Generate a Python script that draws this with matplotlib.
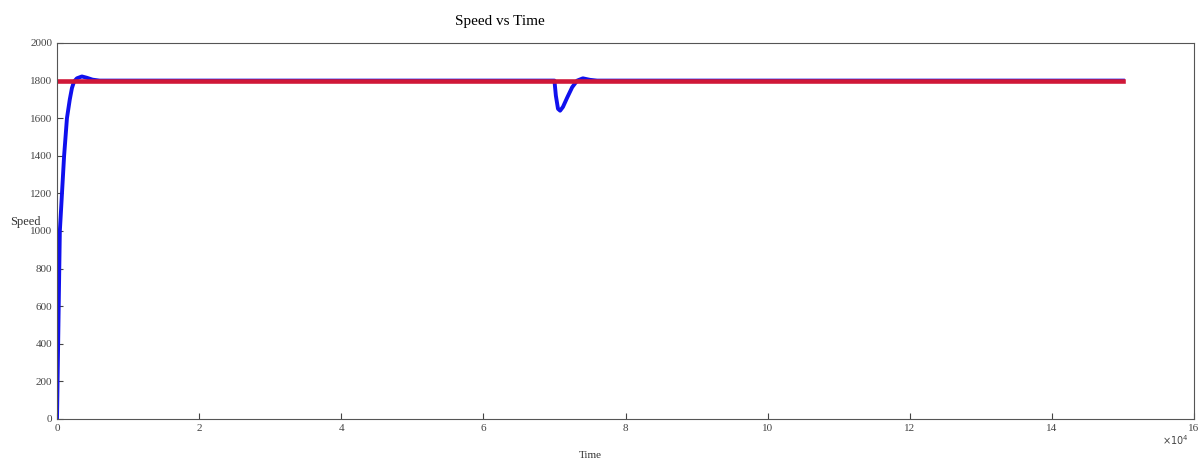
import matplotlib.pyplot as plt
import numpy as np

# time in units of 1e4
t_ref = [0, 15]
speed_ref = [1800, 1800]

t_act = [0, 0.01, 0.02, 0.03, 0.04, 0.055, 0.07, 0.085, 0.1, 0.12, 0.14, 0.18, 0.21, 0.24, 0.28, 0.35, 0.42, 0.5, 0.6,
         7.0, 7.02, 7.05, 7.08, 7.12, 7.18, 7.25, 7.32, 7.4, 7.5, 7.6, 15]
speed_act = [0, 250, 500, 750, 1000, 1100, 1200, 1300, 1400, 1500, 1600, 1700, 1760, 1795, 1812, 1822, 1815, 1805, 1800,
             1800, 1720, 1650, 1640, 1660, 1710, 1765, 1800, 1812, 1804, 1800, 1800]

plt.rcParams['font.family'] = ['Liberation Serif', 'DejaVu Serif']

fig = plt.figure(figsize=(12, 4.63), dpi=100)
ax = fig.add_axes([57/1200, 1 - 419/463, (1194-57)/1200, (419-43)/463])

ax.plot(t_act, speed_act, color='#1010ee', lw=2.8)
ax.plot(t_ref, speed_ref, color='#d01838', lw=3.3)

ax.set_xlim(0, 16)
ax.set_ylim(0, 2000)
ax.set_xticks(np.arange(0, 17, 2))
ax.set_yticks(np.arange(0, 2001, 200))
ax.tick_params(direction='in', labelsize=8, colors='#444444', length=4)
for s in ax.spines.values():
    s.set_color('#555555')

fig.text(500/1200, 1 - 22/463, 'Speed vs Time', ha='center', va='center', fontsize=11)
fig.text(25/1200, 1 - 222/463, 'Speed', ha='center', va='center', fontsize=9, color='#333333')
fig.text(590/1200, 1 - 455/463, 'Time', ha='center', va='center', fontsize=8, color='#333333')
fig.text(1175/1200, 1 - 440/463, r'$\times 10^4$', ha='center', va='center', fontsize=7, color='#444444')

fig.savefig('out.png', dpi=100)
